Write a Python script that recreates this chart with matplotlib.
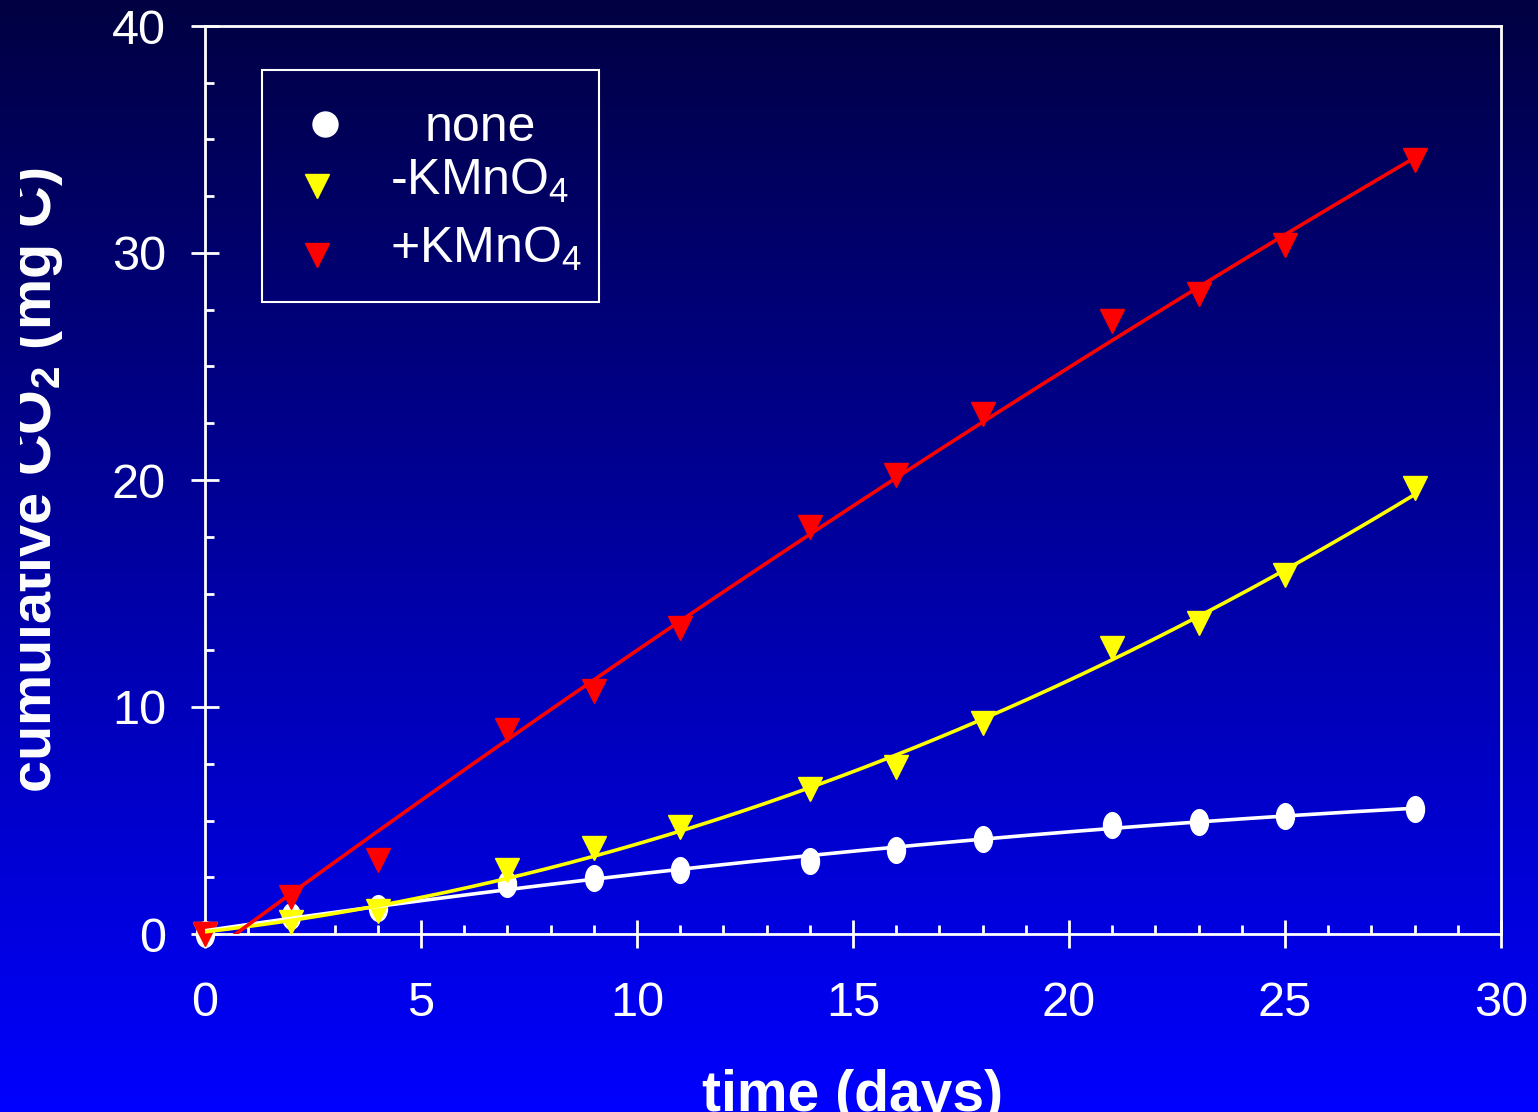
import numpy as np
import matplotlib
matplotlib.use("Agg")
import matplotlib.pyplot as plt
from matplotlib.path import Path
from matplotlib.transforms import Affine2D, Bbox
from matplotlib.patches import Rectangle

# Incubation data: cumulative CO2 released (mg C) over time (days)
days = [0, 2, 4, 7, 9, 11, 14, 16, 18, 21, 23, 25, 28]
co2_none = [0, 0.8, 1.16, 2.2, 2.48, 2.82, 3.23, 3.7, 4.2, 4.8, 4.95, 5.2, 5.52]
co2_minus_kmno4 = [0, 0.55, 1.0, 2.8, 3.8, 4.7, 6.4, 7.34, 9.31, 12.58, 13.68, 15.83, 19.63]
co2_plus_kmno4 = [0, 1.63, 3.24, 8.99, 10.72, 13.48, 17.94, 20.2, 22.9, 27.02, 28.19, 30.37, 34.1]

series_labels = ["none", r"-KMnO$_4$", r"+KMnO$_4$"]
x_ticks = [0, 5, 10, 15, 20, 25, 30]
y_ticks = [0, 10, 20, 30, 40]

plt.rcParams["font.family"] = ["Liberation Sans", "DejaVu Sans"]
plt.rcParams["mathtext.fontset"] = "custom"
plt.rcParams["mathtext.rm"] = "Liberation Sans"
plt.rcParams["mathtext.it"] = "Liberation Sans:italic"
plt.rcParams["mathtext.bf"] = "Liberation Sans:bold"

W, H = 1538, 1112
fig = plt.figure(figsize=(W / 100, H / 100), dpi=100)

# vertical navy-to-blue gradient behind everything
bg = fig.add_axes([0, 0, 1, 1], zorder=-10)
grad = np.linspace(0, 1, 512)
cols = np.zeros((512, 1, 3))
cols[:, 0, 2] = (66 + (255 - 66) * grad) / 255.0
bg.imshow(cols, aspect="auto", extent=[0, 1, 0, 1], origin="upper")
bg.set_axis_off()

left, right, top, bottom = 205, 1501, 26, 934
ax = fig.add_axes([left / W, 1 - bottom / H, (right - left) / W, (bottom - top) / H])
ax.set_facecolor("none")

# slightly tall ellipse for the "none" points
ellipse = Path.unit_circle().transformed(Affine2D().scale(0.7, 1.0))

t = np.asarray(days, dtype=float)
tt = np.linspace(0, 28, 200)
colors = ["white", "#ffff00", "#ff0000"]

# measured points
ax.plot(days, co2_none, ls="none", marker=ellipse, ms=18.5, color=colors[0],
        mec=colors[0], zorder=3, clip_on=False)
ax.plot(days, co2_minus_kmno4, ls="none", marker="v", ms=17, color=colors[1],
        mec=colors[1], zorder=3.1, clip_on=False)
ax.plot(days, co2_plus_kmno4, ls="none", marker="v", ms=17, color=colors[2],
        mec=colors[2], zorder=3.2, clip_on=False)

# quadratic trend lines
c_none = np.polyfit(t, co2_none, 2)
ax.plot(tt, np.polyval(c_none, tt), color=colors[0], lw=2.6, zorder=4)

c_minus = np.polyfit(t, co2_minus_kmno4, 2)
ax.plot(tt, np.polyval(c_minus, tt), color=colors[1], lw=2.6, zorder=4.1)

c_plus = np.polyfit(t, co2_plus_kmno4, 2)
roots = np.roots(c_plus)
roots = roots[np.isreal(roots)].real
t0 = min([r for r in roots if 0 <= r < 5], default=0.0)
tr = np.linspace(t0, 28, 200)
ax.plot(tr, np.polyval(c_plus, tr), color=colors[2], lw=2.6, zorder=4.2)

ax.set_xlim(0, 30)
ax.set_ylim(0, 40)
ax.set_xticks(x_ticks)
ax.set_yticks(y_ticks)
ax.set_xticks(np.arange(0, 31, 1), minor=True)
ax.set_yticks(np.arange(0, 40.1, 2.5), minor=True)

for s in ax.spines.values():
    s.set_color("white")
    s.set_linewidth(2.0)

ax.tick_params(which="major", direction="inout", length=20, width=2.0,
               colors="white", labelsize=35, labelcolor="white")
ax.tick_params(axis="x", which="major", pad=24)
ax.tick_params(axis="y", which="major", pad=18)
ax.tick_params(which="minor", direction="in", length=6.5, width=2.0, colors="white")

ax.set_xlabel("time (days)", fontsize=41, fontweight="bold", color="white")
ax.set_ylabel(r"cumulative CO$_\mathbf{2}$ (mg C)", fontsize=41.5, fontweight="bold",
              color="white")
ax.xaxis.set_label_coords(0.5, (bottom - 1069) / (bottom - top))
ax.yaxis.set_label_coords((65 - left) / (right - left), 0.5)
# the axis title is cut off at a margin near the left edge
ax.yaxis.label.set_clip_box(Bbox.from_extents(20, 0, W, H))
ax.yaxis.label.set_clip_on(True)


def ax_xy(px, py):
    return (px - left) / (right - left), (bottom - py) / (bottom - top)


# legend box
x0, y0 = ax_xy(262, 302)
x1, y1 = ax_xy(599, 70)
ax.add_patch(Rectangle((x0, y0), x1 - x0, y1 - y0, transform=ax.transAxes,
                       fill=False, edgecolor="white", lw=1.5, clip_on=False, zorder=6))

legend_rows = [
    (325, 124, "o", 18, 480, 128),
    (317, 186, "v", 17.5, 480, 181),
    (317, 255, "v", 17.5, 486, 249),
]
for (mx, my, mk, ms, tx, ty), lab, col in zip(legend_rows, series_labels, colors):
    ax.plot(*ax_xy(mx, my), marker=mk, ms=ms, color=col, mec=col,
            transform=ax.transAxes, clip_on=False, zorder=7)
    ax.text(*ax_xy(tx, ty), lab, transform=ax.transAxes,
            ha="center", va="center", fontsize=36, color="white", zorder=7)

fig.savefig("out.png", dpi=100)
